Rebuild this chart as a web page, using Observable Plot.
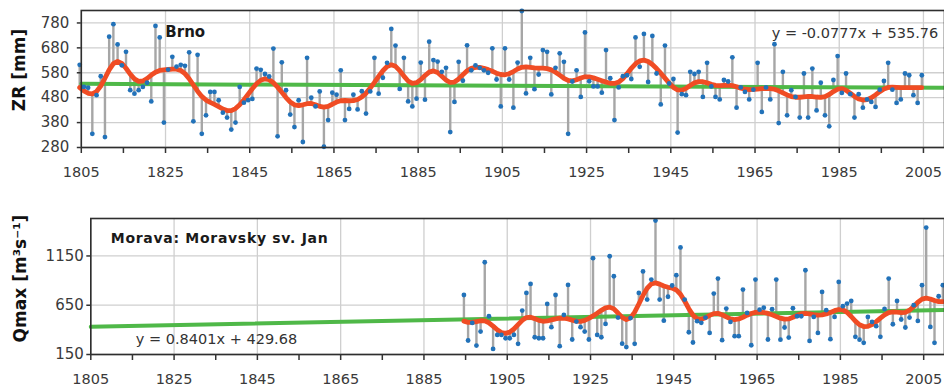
<!DOCTYPE html>
<html><head><meta charset="utf-8">
<script src="https://cdn.jsdelivr.net/npm/d3@7"></script>
<script src="https://cdn.jsdelivr.net/npm/@observablehq/plot@0.6"></script>
<style>
body{margin:0;background:#fff;}
#chart svg{display:block;}
</style></head><body><div id="chart"></div>
<script>
// ---- data ----
const brnoStart = 1804;
const brnoValues = [
  612, 523, 520, 335, 490, 566, 322, 725, 775, 694,
  610, 664, 510, 496, 510, 523, 540, 465, 768, 722,
  380, 593, 644, 605, 612, 608, 662, 385, 652, 335,
  409, 503, 503, 470, 420, 400, 352, 380, 523, 460,
  470, 475, 597, 592, 575, 565, 677, 325, 622, 510,
  412, 362, 470, 302, 640, 480, 445, 505, 283, 390,
  500, 492, 590, 390, 435, 492, 433, 506, 416, 505,
  640, 496, 560, 620, 756, 689, 515, 640, 465, 445,
  476, 621, 472, 705, 631, 625, 584, 600, 342, 463,
  624, 548, 690, 590, 610, 600, 590, 580, 678, 553,
  445, 678, 553, 440, 621, 828, 497, 640, 514, 573,
  671, 664, 493, 600, 658, 624, 335, 545, 590, 483,
  742, 546, 525, 525, 500, 671, 558, 390, 521, 566,
  570, 555, 722, 604, 736, 543, 728, 577, 453, 689,
  537, 555, 340, 494, 490, 584, 575, 584, 483, 620,
  525, 483, 473, 551, 545, 642, 440, 521, 503, 473,
  512, 620, 423, 521, 473, 695, 378, 584, 409, 510,
  483, 400, 577, 400, 597, 429, 540, 409, 365, 551,
  647, 499, 577, 494, 400, 494, 440, 473, 463, 443,
  512, 547, 620, 512, 459, 473, 577, 570, 490, 459,
  570
];
const moravaStart = 1894;
const moravaValues = [
  754, 292, 470, 241, 383, 1086, 538, 207, 349, 349,
  315, 315, 349, 258, 596, 775, 866, 325, 315, 315,
  663, 427, 754, 234, 552, 856, 302, 484, 427, 383,
  302, 1127, 349, 325, 460, 1147, 944, 525, 260, 225,
  520, 258, 775, 993, 707, 910, 1509, 707, 493, 736,
  850, 955, 1236, 707, 376, 272, 488, 471, 525, 369,
  768, 920, 295, 616, 481, 336, 336, 809, 572, 244,
  910, 605, 625, 302, 610, 910, 300, 424, 322, 620,
  538, 538, 1005, 288, 531, 369, 785, 600, 305, 531,
  886, 640, 667, 694, 329, 300, 268, 531, 481, 437,
  329, 612, 920, 457, 694, 505, 424, 525, 650, 491,
  853, 1438, 430, 268, 741, 853
];
const labelYears = [1805, 1825, 1845, 1865, 1885, 1905, 1925, 1945, 1965, 1985, 2005];
const tickYears = [1805, 1815, 1825, 1835, 1845, 1855, 1865, 1875, 1885, 1895, 1905, 1915, 1925, 1935, 1945, 1955, 1965, 1975, 1985, 1995, 2005];
const xExtent = [1805, 2010];
const zrTicks = [280, 380, 480, 580, 680, 780];
const qTicks = [150, 650, 1150];
const zrTrend = {slope: -0.0777, intercept: 535.76, origin: 1803};
const qTrend = {slope: 0.8401, intercept: 429.68, origin: 1804};
const zrTrendLabel = "y = -0.0777x + 535.76";
const qTrendLabel = "y = 0.8401x + 429.68";

// smoothed (low-pass) series derived from the values, as in the original
function smooth(values, sigma = 2.4, half = 7) {
  return values.map((_, i) => {
    let s = 0, w = 0;
    for (let k = -half; k <= half; k++) {
      const j = i + k;
      if (j < 0 || j >= values.length) continue;
      const wt = Math.exp(-k * k / (2 * sigma * sigma));
      s += wt * values[j]; w += wt;
    }
    return s / w;
  });
}

const FONT = "DejaVu Sans";

function panel(o) {
  const sm = smooth(o.values);
  const rows = o.values.map((v, i) => ({year: o.start + i, value: v, smooth: sm[i]}));
  const trendRows = xExtent.map(year => ({year, value: o.trend.intercept + o.trend.slope * (year - o.trend.origin)}));
  return Plot.plot({
    width: 944, height: o.height,
    marginTop: o.marginTop, marginBottom: o.marginBottom, marginLeft: o.marginLeft, marginRight: 0,
    style: {fontFamily: FONT, fontSize: "14px", color: "#333", background: "#fff", overflow: "visible"},
    x: {domain: xExtent},
    y: {domain: o.yDomain},
    marks: [
      Plot.gridX(labelYears, {stroke: "#cfcfcf", strokeOpacity: 1, strokeWidth: 1.3}),
      Plot.gridY(o.yTicks, {stroke: "#cfcfcf", strokeOpacity: 1, strokeWidth: 1.3}),
      Plot.ruleX(rows, {x: "year", y1: "smooth", y2: "value", stroke: "#a6a6a6", strokeWidth: 2.4, dx: o.dx}),
      Plot.line(trendRows, {x: "year", y: "value", stroke: "#4fb848", strokeWidth: 4}),
      Plot.line(rows, {x: "year", y: "smooth", stroke: "#f04c24", strokeWidth: 4.8, dx: o.dx}),
      Plot.dot(rows, {x: "year", y: "value", r: 2.4, fill: "#2272b9", dx: o.dx}),
      Plot.frame({stroke: "#2e2e2e", strokeWidth: 1.6}),
      Plot.axisX(tickYears, {tickSize: 6, text: null, label: null, stroke: "#333", strokeWidth: 1.5}),
      Plot.axisX(labelYears, {tickSize: 0, tickPadding: 19, label: null, tickFormat: d => String(d), fontSize: 14.5, fill: "#3a3a3a"}),
      Plot.axisY(o.yTicks, {tickSize: 4, tickPadding: o.yPad, label: null, tickFormat: d => String(d), fontSize: 15, fill: "#3a3a3a", stroke: "#333", strokeWidth: 1.5}),
      Plot.text([o.title], {frameAnchor: "left", textAnchor: "middle", lineAnchor: "middle", rotate: -90, dx: o.titleDx, dy: o.titleDy, fontWeight: "bold", fontSize: 17, fill: "#111"}),
      Plot.text([o.name], {frameAnchor: "top-left", textAnchor: "start", lineAnchor: "top", dx: o.nameDx, dy: o.nameDy, fontWeight: "bold", fontSize: o.nameSize, fill: "#1a1a1a", className: "station-name"}),
      Plot.text([o.eq], {frameAnchor: "top-left", textAnchor: o.eqAnchor, lineAnchor: "top", dx: o.eqDx, dy: o.eqDy, fontSize: 14.5, fill: "#333"})
    ]
  });
}

const topPanel = panel({
  values: brnoValues, start: brnoStart, trend: zrTrend,
  height: 193, marginTop: 10, marginBottom: 46, marginLeft: 80.8,
  yDomain: [280, 830], yTicks: zrTicks, yPad: 8, dx: 2.6,
  title: "ZR [mm]", titleDx: -62, titleDy: -9,
  name: "Brno", nameDx: 84, nameDy: 16, nameSize: 15,
  eq: zrTrendLabel, eqAnchor: "end", eqDx: 857, eqDy: 17
});
const bottomPanel = panel({
  values: moravaValues, start: moravaStart, trend: qTrend,
  height: 193, marginTop: 25, marginBottom: 32, marginLeft: 90.3,
  yDomain: [150, 1530], yTicks: qTicks, yPad: 3, dx: 2.5,
  title: "Qmax [m³s⁻¹]", titleDx: -70, titleDy: -8,
  name: "Morava: Moravsky sv. Jan", nameDx: 20, nameDy: 15, nameSize: 14,
  eq: qTrendLabel, eqAnchor: "start", eqDx: 45, eqDy: 115
});
d3.select(bottomPanel).selectAll(".station-name text").attr("letter-spacing", "0.7");
document.getElementById("chart").append(topPanel, bottomPanel);
</script>
</body></html>
